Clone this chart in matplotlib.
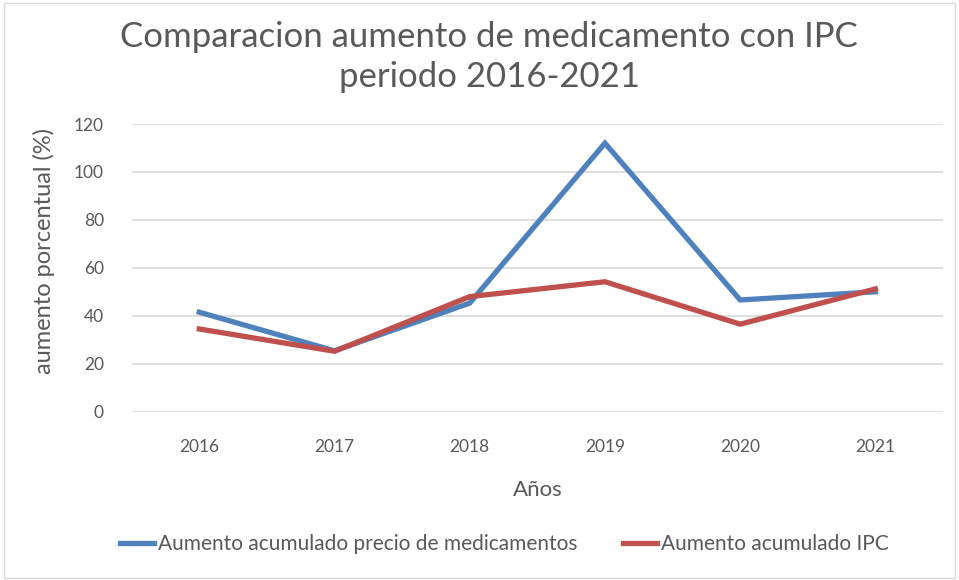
import matplotlib.pyplot as plt
from matplotlib.patches import Rectangle

# datos
anios = ["2016", "2017", "2018", "2019", "2020", "2021"]
medicamentos = [41.5, 25.4, 45.3, 112, 46.6, 50]
ipc = [34.5, 25.2, 48, 54.2, 36.5, 51.2]
yticks = [0, 20, 40, 60, 80, 100, 120]

plt.rcParams["font.family"] = ["Lato", "DejaVu Sans"]
gris = "#595959"

fig = plt.figure(figsize=(9.59, 5.80), dpi=100)
ax = fig.add_axes([0.1373, 0.2902, 0.846, 0.496])

x = range(len(anios))
ax.plot(x, medicamentos, color="#4F81BD", linewidth=3.8,
        label="Aumento acumulado precio de medicamentos", solid_joinstyle="miter")
ax.plot(x, ipc, color="#C0504D", linewidth=3.8,
        label="Aumento acumulado IPC", solid_joinstyle="miter")

ax.set_xlim(-0.5, len(anios) - 0.5)
ax.set_ylim(0, 120)
ax.set_xticks(list(x))
ax.set_xticklabels(anios)
ax.set_yticks(yticks)
ax.tick_params(length=0, labelsize=12.5, labelcolor=gris)
ax.tick_params(axis="x", pad=20)
ax.tick_params(axis="y", pad=20)
ax.grid(axis="y", color="#D9D9D9", linewidth=1.2)
ax.set_axisbelow(True)
for s in ax.spines.values():
    s.set_visible(False)

ax.set_xlabel("Años", fontsize=16, color=gris, labelpad=18)
ax.set_ylabel("aumento porcentual (%)", fontsize=17, color=gris, labelpad=12)
ax.yaxis.set_label_coords(-0.095, 0.56)

fig.text(0.51, 0.937, "Comparacion aumento de medicamento con IPC",
         ha="center", va="center", fontsize=25, color=gris)
fig.text(0.51, 0.867, "periodo 2016-2021",
         ha="center", va="center", fontsize=25, color=gris)

fig.legend(loc="center", bbox_to_anchor=(0.526, 0.062), ncol=2, frameon=False,
           fontsize=15, labelcolor=gris, handlelength=1.6, handletextpad=0.2,
           columnspacing=2.2)

fig.patches.append(Rectangle((0.004, 0.004), 0.992, 0.99, transform=fig.transFigure,
                             fill=False, edgecolor="#D9D9D9", linewidth=1))

plt.savefig("out.png", dpi=100)
